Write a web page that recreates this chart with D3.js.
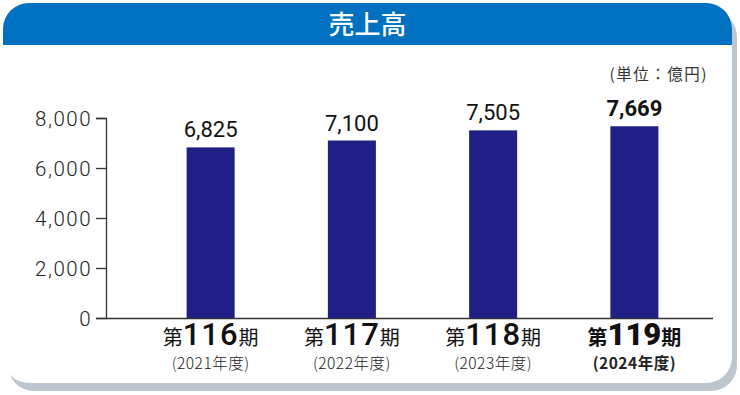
<!DOCTYPE html>
<html><head><meta charset="utf-8">
<script src="https://cdn.jsdelivr.net/npm/d3@7"></script>
<style>html,body{margin:0;padding:0;background:#fff;}svg{display:block;}</style>
</head><body>
<svg id="c" width="740" height="395"></svg>
<script>
const title = "売上高";
const unitLabel = "(単位：億円)";
const periods = ["116", "117", "118", "119"];
const years = ["(2021年度)", "(2022年度)", "(2023年度)", "(2024年度)"];
const sales = [6825, 7100, 7505, 7669];
const yTicks = [0, 2000, 4000, 6000, 8000];

const svg = d3.select("#c");
const cardX = 3, cardY = 3, cardW = 729, cardH = 380, r = 26;

// shadow
svg.append("rect").attr("x", cardX + 5).attr("y", cardY + 8).attr("width", cardW).attr("height", cardH)
  .attr("rx", r).attr("fill", "#bdc6cf");
// card
svg.append("rect").attr("x", cardX).attr("y", cardY).attr("width", cardW).attr("height", cardH)
  .attr("rx", r).attr("fill", "#ffffff");
// header
const hb = 45;
svg.append("path").attr("fill", "#0070c0")
  .attr("d", `M${cardX},${hb} L${cardX},${cardY + r} A${r},${r} 0 0 1 ${cardX + r},${cardY} L${cardX + cardW - r},${cardY} A${r},${r} 0 0 1 ${cardX + cardW},${cardY + r} L${cardX + cardW},${hb} Z`);
svg.append("text").attr("x", cardX + cardW / 2).attr("y", 34).attr("text-anchor", "middle")
  .attr("fill", "#fff").attr("font-family", "'Noto Sans CJK JP'").attr("font-weight", 500)
  .attr("font-size", 26).text(title);

const x = d3.scaleBand().domain(periods).range([140, 705]).paddingInner(0.66).paddingOuter(0.33);
const y = d3.scaleLinear().domain([0, 8000]).range([318, 118]);

// unit
svg.append("text").attr("x", 708).attr("y", 80).attr("text-anchor", "end")
  .attr("font-family", "'Noto Sans CJK JP'").attr("font-size", 15.5).attr("letter-spacing", 1.5)
  .attr("fill", "#333").text(unitLabel);

// y axis
const yAxis = d3.axisLeft(y).tickValues(yTicks).tickSize(10).tickPadding(4).tickFormat(d3.format(","));
const ga = svg.append("g").attr("transform", "translate(106,0)").call(yAxis);
ga.select(".domain").attr("stroke", "#333").attr("stroke-width", 1.3).attr("d", "M-10,118.5H0.5V318.5H-10");
ga.selectAll(".tick line").attr("stroke", "#333").attr("stroke-width", 1.3);
ga.selectAll(".tick text").attr("font-family", "Roboto").attr("font-weight", 300).attr("font-size", 20.5)
  .attr("letter-spacing", 1.5).attr("fill", "#222").attr("dy", "0.36em");

// baseline
svg.append("line").attr("x1", 106).attr("x2", 713).attr("y1", y(0) + 0.5).attr("y2", y(0) + 0.5)
  .attr("stroke", "#333").attr("stroke-width", 1.3);

// bars
svg.selectAll("rect.bar").data(sales).enter().append("rect").attr("class", "bar")
  .attr("x", (d, i) => x(periods[i])).attr("width", x.bandwidth())
  .attr("y", d => y(d)).attr("height", d => y(0) - y(d)).attr("fill", "#1f1f86");

// value labels
svg.selectAll("text.val").data(sales).enter().append("text").attr("class", "val")
  .attr("x", (d, i) => x(periods[i]) + x.bandwidth() / 2).attr("y", d => y(d) - 10)
  .attr("text-anchor", "middle").attr("font-family", "Roboto").attr("font-size", 22)
  .attr("font-weight", (d, i) => i === sales.length - 1 ? 700 : 400).attr("fill", "#111")
  .text(d3.format(","));

// x labels
periods.forEach((p, i) => {
  const cx = x(p) + x.bandwidth() / 2;
  const last = i === periods.length - 1;
  const t = svg.append("text").attr("x", cx).attr("y", 345).attr("text-anchor", "middle").attr("fill", "#111");
  t.append("tspan").attr("font-family", "'Noto Sans CJK JP'").attr("font-size", 20).attr("font-weight", last ? 700 : 400).text("第");
  t.append("tspan").attr("font-family", "Roboto").attr("font-size", 31).attr("letter-spacing", last ? 0 : 1).attr("font-weight", last ? 900 : 500).text(p);
  t.append("tspan").attr("font-family", "'Noto Sans CJK JP'").attr("font-size", 20).attr("font-weight", last ? 700 : 400).text("期");
  svg.append("text").attr("x", cx).attr("y", 369).attr("text-anchor", "middle").attr("fill", "#222")
    .attr("font-family", "'Noto Sans CJK JP'").attr("font-size", 15.5).attr("font-weight", last ? 700 : 300)
    .attr("letter-spacing", 0.5).text(years[i]);
});
</script>
</body></html>
